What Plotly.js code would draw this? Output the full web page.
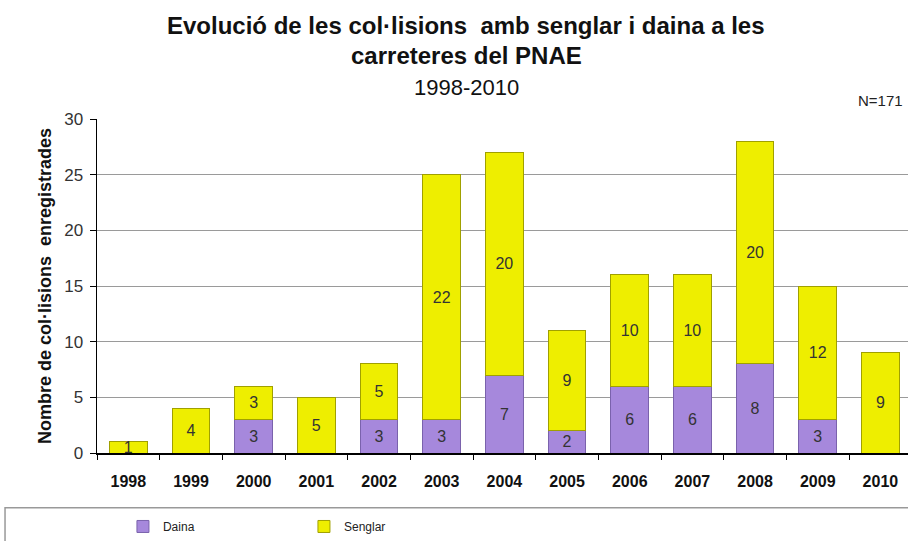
<!DOCTYPE html>
<html>
<head>
<meta charset="utf-8">
<script src="https://cdn.plot.ly/plotly-3.0.1.min.js"></script>
<style>html,body{margin:0;padding:0;background:#fff;}#chart{width:908px;height:541px;}</style>
</head>
<body>
<div id="chart"></div>
<script>
const years = ['1998','1999','2000','2001','2002','2003','2004','2005','2006','2007','2008','2009','2010'];
const daina = [0,0,3,0,3,3,7,2,6,6,8,3,0];
const senglar = [1,4,3,5,5,22,20,9,10,10,20,12,9];
const yTicks = [0,5,10,15,20,25,30];

const lbl = arr => arr.map(v => v > 0 ? String(v) : '');
const F = 'Arial, Liberation Sans, sans-serif';

const traces = [
  {type:'bar', name:'Daina', x:years, y:daina, text:lbl(daina), textposition:'inside', textangle:0,
   constraintext:'none', insidetextanchor:'middle', textfont:{family:F, size:16, color:'#333'},
   marker:{color:'#A688DC', line:{color:'#7A62AC', width:1}}, width:0.6, hoverinfo:'skip'},
  {type:'bar', name:'Senglar', x:years, y:senglar, text:lbl(senglar), textposition:'inside', textangle:0,
   constraintext:'none', insidetextanchor:'middle', textfont:{family:F, size:16, color:'#333'},
   marker:{color:'#EEEE00', line:{color:'#A0A000', width:1}}, width:0.6, hoverinfo:'skip'}
];

const layout = {
  width:908, height:541,
  margin:{l:97, r:0, t:119, b:86},
  barmode:'stack',
  paper_bgcolor:'#fff', plot_bgcolor:'#fff',
  font:{family:F, color:'#222'},
  uniformtext:{minsize:16, mode:'show'},
  showlegend:true,
  legend:{orientation:'h', traceorder:'normal', x:0.032, xanchor:'left', y:-0.22, yanchor:'middle', yref:'paper',
          font:{family:F, size:12, color:'#222'},
          entrywidth:136, entrywidthmode:'pixels', itemwidth:30, bgcolor:'rgba(0,0,0,0)'},
  xaxis:{type:'category', range:[-0.5, 12.44], tickson:'boundaries', ticks:'outside', ticklen:5, tickcolor:'#000',
         showline:true, linecolor:'#000', linewidth:1.5, showgrid:false, ticklabelstandoff:13,
         tickfont:{family:F, size:16, color:'#111', weight:'bold'}},
  yaxis:{range:[0,30], tickvals:yTicks, ticks:'outside', ticklen:6, tickcolor:'#000',
         showline:true, linecolor:'#000', linewidth:1.5, gridcolor:'#9a9a9a', gridwidth:1,
         zeroline:false, ticklabelstandoff:3, tickfont:{family:F, size:17, color:'#333'},
         title:{text:'<b>Nombre de col·lisions  enregistrades</b>', standoff:8,
                font:{family:F, size:18, color:'#111'}}},
  annotations:[
    {xref:'paper', yref:'paper', x:0.455, y:1, yshift:94, xanchor:'center', yanchor:'middle', showarrow:false,
     text:'<b>Evolució de les col·lisions  amb senglar i daina a les</b>',
     font:{family:F, size:24, color:'#111'}},
    {xref:'paper', yref:'paper', x:0.455, y:1, yshift:64, xanchor:'center', yanchor:'middle', showarrow:false,
     text:'<b>carreteres del PNAE</b>',
     font:{family:F, size:24, color:'#111'}},
    {xref:'paper', yref:'paper', x:0.455, y:1, yshift:32, xanchor:'center', yanchor:'middle', showarrow:false,
     text:'1998-2010', font:{family:F, size:22, color:'#111'}},
    {xref:'paper', yref:'paper', x:0.996, y:1, yshift:19, xanchor:'right', yanchor:'middle', showarrow:false,
     text:'N=171', font:{family:F, size:15, color:'#222'}}
  ],
  shapes:[
    {type:'rect', xref:'paper', yref:'paper', x0:-0.1134, x1:1.02, y0:-0.3, y1:-0.164,
     line:{color:'#999', width:1.5}, fillcolor:'rgba(0,0,0,0)'}
  ]
};

Plotly.newPlot('chart', traces, layout, {displayModeBar:false, staticPlot:true});
</script>
</body>
</html>
